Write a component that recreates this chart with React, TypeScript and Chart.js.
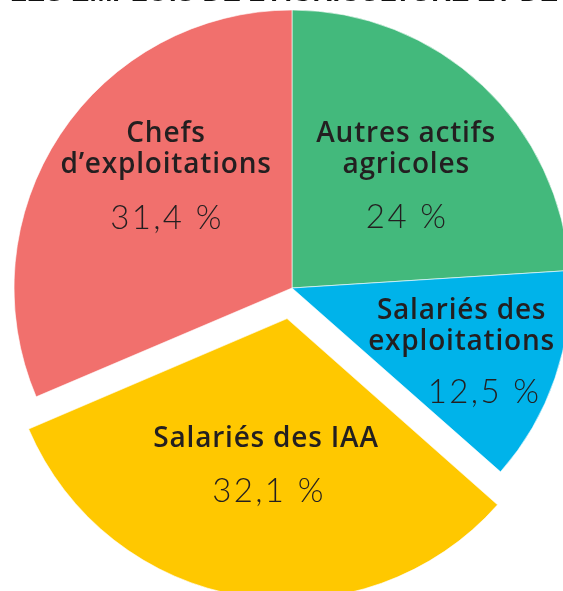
import React, { useEffect, useRef } from "react";
import { Chart, registerables } from "chart.js";

Chart.register(...registerables);

const TITLE = "LES EMPLOIS DE L’AGRICULTURE ET DE";
const categories = [
  ["Autres actifs", "agricoles"],
  ["Salariés des", "exploitations"],
  ["Salariés des IAA"],
  ["Chefs", "d’exploitations"],
];
const shares = [24, 12.5, 32.1, 31.4];
const colors = ["#43B97C", "#00B3EA", "#FFC800", "#F1706D"];
// Chart.js 4 translates an arc by offset / 4
const offsets = [0, 0, 124, 0];

// label anchor tuning: radius (px), angle shift (deg), name x shift (px), name y shift
const labelLayout = [
  { r: 134, da: 15.2, nameDx: 0, nameDy: 0 },
  { r: 218, da: 9.6, nameDx: -22, nameDy: 3 },
  { r: 174, da: -2.9, nameDx: -2, nameDy: 0 },
  { r: 144, da: -4.5, nameDx: 0, nameDy: 0 },
];

const fmt = (v: number) => String(v).replace(".", ",") + " %";

const labelPlugin = {
  id: "sliceLabels",
  afterDatasetsDraw(chart: any) {
    const ctx = chart.ctx;
    const meta = chart.getDatasetMeta(0);
    meta.data.forEach((arc: any, i: number) => {
      const { x, y, startAngle, endAngle } = arc.getProps(
        ["x", "y", "startAngle", "endAngle"],
        true
      );
      const mid = (startAngle + endAngle) / 2;
      const off = (arc.options.offset || 0) / 4;
      const cx = x + Math.cos(mid) * off;
      const cy = y + Math.sin(mid) * off;
      const L = labelLayout[i];
      const a = mid + (L.da * Math.PI) / 180;
      const px = cx + Math.cos(a) * L.r;
      const py = cy + Math.sin(a) * L.r;
      ctx.save();
      ctx.fillStyle = "#231F20";
      ctx.textAlign = "center";
      ctx.textBaseline = "middle";
      ctx.font = "300 33px Lato";
      (ctx as any).letterSpacing = "2.4px";
      ctx.fillText(fmt(shares[i]), px + 1, py);
      ctx.font = "600 28px 'Open Sans'";
      (ctx as any).letterSpacing = "0.8px";
      const lines = categories[i];
      lines.forEach((ln, k) => {
        const dy = -53 - (lines.length - 1 - k) * 31 + L.nameDy;
        ctx.fillText(ln, px + L.nameDx, py + dy);
      });
      ctx.restore();
    });
  },
};

export default function App() {
  const ref = useRef<HTMLCanvasElement | null>(null);
  useEffect(() => {
    if (!ref.current) return;
    const chart = new Chart(ref.current, {
      type: "pie",
      data: {
        labels: categories.map((c) => c.join(" ")),
        datasets: [
          {
            data: shares,
            backgroundColor: colors,
            borderColor: "rgba(255,255,255,0.6)",
            borderWidth: 1,
            offset: offsets,
            clip: false as any,
          },
        ],
      },
      options: {
        animation: false,
        responsive: false,
        devicePixelRatio: 1,
        radius: 278,
        layout: { padding: { top: 0, left: 0, right: 0, bottom: 64 } },
        plugins: {
          legend: { display: false },
          tooltip: { enabled: false },
          title: { display: false },
        },
      } as any,
      plugins: [labelPlugin],
    });
    return () => chart.destroy();
  }, []);

  return (
    <div
      style={{
        position: "fixed",
        left: 0,
        top: 0,
        width: 563,
        height: 591,
        overflow: "hidden",
        background: "#ffffff",
      }}
    >
      <canvas
        ref={ref}
        width={584}
        height={640}
        style={{ position: "absolute", left: 0, top: 0, width: 584, height: 640 }}
      />
      <div
        style={{
          position: "absolute",
          left: 10,
          top: -21,
          fontFamily: "'Liberation Sans', Arial, sans-serif",
          fontWeight: 700,
          fontSize: 27.5,
          lineHeight: "26px",
          whiteSpace: "nowrap",
          color: "#111",
        }}
      >
        {TITLE}
      </div>
    </div>
  );
}
